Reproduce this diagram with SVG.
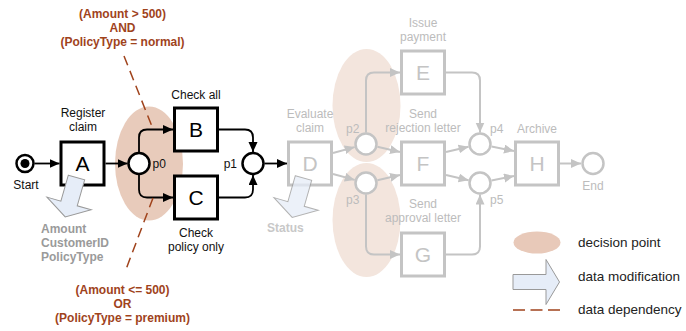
<svg xmlns="http://www.w3.org/2000/svg" width="686" height="331" viewBox="0 0 686 331">
<style>
text{font-family:"Liberation Sans",Arial,sans-serif;}
.lbl{font-size:12px;fill:#111;text-anchor:middle;}
.glbl{font-size:12px;fill:#bcbcbc;text-anchor:middle;}
.pl{font-size:12px;fill:#111;}
.gpl{font-size:12px;fill:#bcbcbc;}
.box{fill:#fff;stroke:#000;stroke-width:3;}
.gbox{fill:#fff;stroke:#c4c4c4;stroke-width:3;}
.let{font-size:21px;fill:#000;text-anchor:middle;}
.glet{font-size:21px;fill:#c4c4c4;text-anchor:middle;}
.pc{fill:#fff;stroke:#000;stroke-width:2.5;}
.gpc{fill:#fff;stroke:#c4c4c4;stroke-width:2.5;}
.c{fill:none;stroke:#000;stroke-width:1.8;marker-end:url(#ab);}
.gc{fill:none;stroke:#c4c4c4;stroke-width:2;marker-end:url(#ag);}
.cond{font-size:12px;font-weight:bold;fill:#a0431c;text-anchor:middle;}
.dep{fill:none;stroke:#a0431c;stroke-width:1.5;stroke-dasharray:10,6;}
.data{font-size:12px;font-weight:bold;fill:#9a9a9a;}
.dm{fill:#e6edf8;stroke:#999;stroke-width:1;}
.leg{font-size:13.5px;fill:#222;}
</style>
<defs>
<marker id="ab" markerUnits="userSpaceOnUse" markerWidth="11" markerHeight="10" refX="10" refY="4.5" orient="auto"><path d="M0,0 L10,4.5 L0,9 z" fill="#000"/></marker>
<marker id="ag" markerUnits="userSpaceOnUse" markerWidth="11" markerHeight="10" refX="10" refY="4.5" orient="auto"><path d="M0,0 L10,4.5 L0,9 z" fill="#c4c4c4"/></marker>
</defs>
<g id="decision-points">
<ellipse cx="149" cy="163.5" rx="34" ry="57" fill="#e8cbbb"/>
<ellipse cx="366.5" cy="105.5" rx="34" ry="56.5" fill="#f3e5dd"/>
<ellipse cx="366.5" cy="220" rx="34" ry="57" fill="#f3e5dd"/>
</g>
<g id="connectors">
<path class="c" d="M34.5,163.5 L59.5,163.5"/>
<path class="c" d="M105.5,163.5 L127.5,163.5"/>
<path class="c" d="M139,152 L139,137.5 Q139,129.5 147,129.5 L173,129.5"/>
<path class="c" d="M139,175 L139,189.5 Q139,197.5 147,197.5 L173,197.5"/>
<path class="c" d="M219,129.5 L245,129.5 Q253,129.5 253,137.5 L253,152"/>
<path class="c" d="M219,197.5 L245,197.5 Q253,197.5 253,189.5 L253,175"/>
<path class="c" d="M264.5,163.5 L287,163.5"/>
<path class="gc" d="M333,153 L354.7,147.1"/>
<path class="gc" d="M333,174 L354.7,179.9"/>
<path class="gc" d="M366,132.5 L366,80.5 Q366,72.5 374,72.5 L400,72.5"/>
<path class="gc" d="M377.4,146.7 L400,152"/>
<path class="gc" d="M377.4,180.3 L400,175"/>
<path class="gc" d="M366,194.5 L366,246.5 Q366,254.5 374,254.5 L400,254.5"/>
<path class="gc" d="M446,72.5 L472,72.5 Q480,72.5 480,80.5 L480,132.5"/>
<path class="gc" d="M446,254.5 L472,254.5 Q480,254.5 480,246.5 L480,194.5"/>
<path class="gc" d="M446,152 L468.6,146.7"/>
<path class="gc" d="M446,175 L468.6,180.3"/>
<path class="gc" d="M491.5,146.4 L514,151"/>
<path class="gc" d="M491.5,180.6 L514,176"/>
<path class="gc" d="M560,163.5 L581,163.5"/>
</g>
<g id="dependencies">
<path class="dep" d="M124,56 L153,129"/>
<path class="dep" d="M153,198 L125,272"/>
</g>
<g id="start">
<circle class="pc" cx="25" cy="163.5" r="8.5"/>
<circle cx="25" cy="163.5" r="4.5" fill="#000"/>
<text class="lbl" x="26" y="189">Start</text>
</g>
<g id="A">
<rect class="box" x="61" y="142" width="43" height="43"/>
<text class="let" x="82.5" y="171">A</text>
<text class="lbl" x="83" y="117">Register</text>
<text class="lbl" x="83" y="131">claim</text>
</g>
<g id="p0">
<circle class="pc" cx="139" cy="163.5" r="10.5"/>
<text class="pl" x="152.5" y="168">p0</text>
</g>
<g id="B">
<rect class="box" x="174.5" y="108" width="43" height="43"/>
<text class="let" x="196" y="137">B</text>
<text class="lbl" x="196" y="99">Check all</text>
</g>
<g id="C">
<rect class="box" x="174.5" y="176" width="43" height="43"/>
<text class="let" x="196" y="205">C</text>
<text class="lbl" x="196" y="237">Check</text>
<text class="lbl" x="196" y="250.5">policy only</text>
</g>
<g id="p1">
<circle class="pc" cx="253" cy="163.5" r="10.5"/>
<text class="pl" x="237" y="168" text-anchor="end">p1</text>
</g>
<g id="D">
<rect class="gbox" x="288.5" y="142" width="43" height="43"/>
<text class="glet" x="310" y="171">D</text>
<text class="glbl" x="310" y="118">Evaluate</text>
<text class="glbl" x="310" y="131.5">claim</text>
</g>
<g id="p2">
<circle class="gpc" cx="366" cy="144" r="10.5"/>
<text class="gpl" x="346" y="133">p2</text>
</g>
<g id="p3">
<circle class="gpc" cx="366" cy="183" r="10.5"/>
<text class="gpl" x="346" y="203.5">p3</text>
</g>
<g id="E">
<rect class="gbox" x="401.5" y="51" width="43" height="43"/>
<text class="glet" x="423" y="80">E</text>
<text class="glbl" x="423" y="27">Issue</text>
<text class="glbl" x="423" y="40.5">payment</text>
</g>
<g id="F">
<rect class="gbox" x="401.5" y="142" width="43" height="43"/>
<text class="glet" x="423" y="171">F</text>
<text class="glbl" x="423" y="118">Send</text>
<text class="glbl" x="423" y="131.5">rejection letter</text>
</g>
<g id="G">
<rect class="gbox" x="401.5" y="233" width="43" height="43"/>
<text class="glet" x="423" y="262">G</text>
<text class="glbl" x="423" y="208">Send</text>
<text class="glbl" x="423" y="222">approval letter</text>
</g>
<g id="p4">
<circle class="gpc" cx="480" cy="144" r="10.5"/>
<text class="gpl" x="490" y="133">p4</text>
</g>
<g id="p5">
<circle class="gpc" cx="480" cy="183" r="10.5"/>
<text class="gpl" x="490" y="203.5">p5</text>
</g>
<g id="H">
<rect class="gbox" x="515.5" y="142" width="43" height="43"/>
<text class="glet" x="537" y="171">H</text>
<text class="glbl" x="537" y="132.5">Archive</text>
</g>
<g id="end">
<circle class="gpc" cx="593" cy="163.5" r="10.5"/>
<text class="glbl" x="593" y="190">End</text>
</g>
<g id="data-A">
<polygon class="dm" transform="translate(76.5,177.5) rotate(16)" points="-8.5,0 8.5,0 8.5,27 23,27 0,41 -23,27 -8.5,27"/>
<text class="data" x="41" y="233">Amount</text>
<text class="data" x="41" y="247">CustomerID</text>
<text class="data" x="41" y="261">PolicyType</text>
</g>
<g id="data-D">
<polygon class="dm" opacity="0.75" transform="translate(303.5,178) rotate(16)" points="-8.5,0 8.5,0 8.5,27 23,27 0,41 -23,27 -8.5,27"/>
<text class="data" x="267" y="232" style="fill:#c8c8c8">Status</text>
</g>
<g id="conditions">
<text class="cond" x="122.5" y="17.5">(Amount &gt; 500)</text>
<text class="cond" x="122.5" y="31.5">AND</text>
<text class="cond" x="122.5" y="45.5">(PolicyType = normal)</text>
<text class="cond" x="122.5" y="294">(Amount &lt;= 500)</text>
<text class="cond" x="122.5" y="308">OR</text>
<text class="cond" x="122.5" y="322">(PolicyType = premium)</text>
</g>
<g id="legend">
<ellipse cx="537" cy="242.5" rx="23.5" ry="11" fill="#e8c9b9"/>
<text class="leg" x="578" y="247">decision point</text>
<polygon class="dm" points="513,274.5 546,274.5 546,259.5 559.5,282 546,304.5 546,289.5 513,289.5"/>
<text class="leg" x="578" y="281">data modification</text>
<path class="dep" d="M513,310 L560,310" style="stroke-dasharray:12,5.5"/>
<text class="leg" x="578" y="314">data dependency</text>
</g>
</svg>
